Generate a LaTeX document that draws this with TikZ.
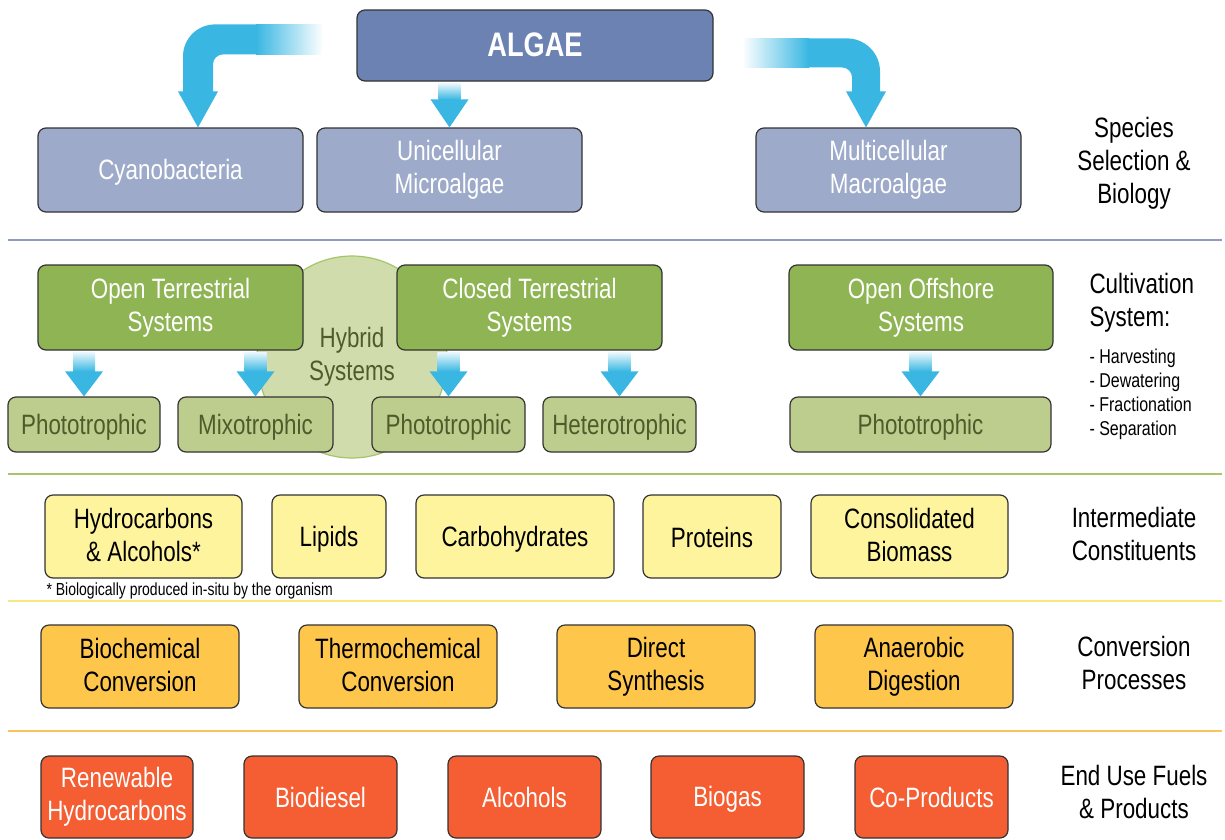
\documentclass[tikz,border=0pt]{standalone}
\usepackage{fontspec}
\setmainfont{Liberation Sans}[FakeStretch=0.8]
\usetikzlibrary{shapes.geometric,positioning,calc}

\definecolor{algaeblue}{HTML}{6B82B2}
\definecolor{specblue}{HTML}{9EAACA}
\definecolor{cultgreen}{HTML}{8EB453}
\definecolor{trophgreen}{HTML}{BDCD8D}
\definecolor{trophtext}{HTML}{4E5B2B}
\definecolor{hybridfill}{HTML}{D1DCAC}
\definecolor{hybriddraw}{HTML}{A3C56A}
\definecolor{constyellow}{HTML}{FEF49D}
\definecolor{convamber}{HTML}{FEC74B}
\definecolor{endred}{HTML}{F55D32}
\definecolor{arrowblue}{HTML}{39B7E2}
\definecolor{lineblue}{HTML}{8F9CC2}
\definecolor{linegreen}{HTML}{A9C46B}
\definecolor{lineyellow}{HTML}{F8E77E}
\definecolor{lineorange}{HTML}{F8C45B}

\newcommand{\topstrut}{\rule{0pt}{25pt}}
\newcommand{\botstrut}{\rule[-4pt]{0pt}{4pt}}

% straight fat arrow: source, target, head length
\newcommand{\fatdown}[3]{%
  \shade[top color=arrowblue!12, bottom color=arrowblue]
    ($(#1.south -| #2.north)+(-11,2)$) rectangle ($(#2.north)+(11,-#3)$);
  \fill[arrowblue] ($(#2.north)+(-19,-#3)$) -- ($(#2.north)+(19,-#3)$) -- (#2.north) -- cycle;
}

\begin{document}
\begin{tikzpicture}[x=1pt,y=-1pt]
		\tikzstyle{box}=[rectangle, rounded corners=8pt, draw=black!80, line width=1.2pt, align=center, inner sep=0pt, font=\fontsize{28}{33}\selectfont, execute at begin node=\topstrut, execute at end node=\botstrut]
		\tikzstyle{species}=[box, fill=specblue, text=white, minimum width=265pt, minimum height=84pt]
		\tikzstyle{cult}=[box, fill=cultgreen, text=white, minimum width=265pt, minimum height=85pt]
		\tikzstyle{troph}=[box, fill=trophgreen, text=trophtext, minimum height=55pt]
		\tikzstyle{constit}=[box, fill=constyellow, minimum height=83pt]
		\tikzstyle{conv}=[box, fill=convamber, minimum width=198pt, minimum height=83pt]
		\tikzstyle{enduse}=[box, fill=endred, text=white, minimum width=153pt, minimum height=82pt]
		\tikzstyle{side}=[align=center, font=\fontsize{28}{33}\selectfont, execute at begin node=\topstrut, execute at end node=\botstrut]
		\tikzstyle{sep}=[line width=2pt]
		\useasboundingbox (0,0) rectangle (1225,839);

		% species
		\node[box, fill=algaeblue, text=white, minimum width=356pt, minimum height=71pt, font=\fontsize{34}{40}\selectfont\bfseries] (algae) at (535,45.5) {ALGAE};
		\node[species] (cyano)   at (170.5,170) {Cyanobacteria};
		\node[species] (unicell) at (449.5,170) {Unicellular\\Microalgae};
		\node[species] (multi)   at (888.5,170) {Multicellular\\Macroalgae};
		\node[side] (lspecies) at (1134,163) {Species\\Selection \&\\Biology};

		% curved arrows out of algae
		\begin{scope}[shift={($(cyano.north)+(27.5,0)$)}]
		\shade[left color=arrowblue, right color=white] (58,-103) rectangle (125,-73);
		\fill[arrowblue] (59,-103) -- (17,-103) .. controls (-0.7,-103) and (-15,-88.7) .. (-15,-71) -- (-15,-36) -- (-20,-36) -- (0,0) -- (20,-36) -- (15,-36) -- (15,-63) .. controls (15,-68.5) and (19.5,-73) .. (25,-73) -- (59,-73) -- cycle;
		\end{scope}
		\begin{scope}[shift={($(multi.north)+(-22.5,0)$)}]
		\shade[left color=white, right color=arrowblue] (-124,-89) rectangle (-57,-60);
		\fill[arrowblue] (-58,-89) -- (-19,-89) .. controls (-0.8,-89) and (14,-74.2) .. (14,-56) -- (14,-36) -- (20,-36) -- (0,0) -- (-20,-36) -- (-14,-36) -- (-14,-50) .. controls (-14,-55.5) and (-18.5,-60) .. (-24,-60) -- (-58,-60) -- cycle;
		\end{scope}
		\fatdown{algae}{unicell}{28}

		\draw[sep, lineblue] (8,240) -- (1222,240);

		% cultivation
		\node[ellipse, fill=hybridfill, draw=hybriddraw, line width=1.2pt, minimum width=190pt, minimum height=202pt, align=center, text=trophtext, font=\fontsize{28}{33}\selectfont] (hybrid) at (352,357) {Hybrid\\Systems};
		\node[cult] (openterr)   at (170.5,307.5) {Open Terrestrial\\Systems};
		\node[cult] (closedterr) at (529.5,307.5) {Closed Terrestrial\\Systems};
		\node[cult, minimum width=264pt] (offshore) at (921,307.5) {Open Offshore\\Systems};

		\node[troph, minimum width=152pt] (photoA) at (84,424.5)    {Phototrophic};
		\node[troph, minimum width=155pt] (mixo)   at (255.5,424.5) {Mixotrophic};
		\node[troph, minimum width=153pt] (photoB) at (448.5,424.5) {Phototrophic};
		\node[troph, minimum width=153pt] (hetero) at (619.5,424.5) {Heterotrophic};
		\node[troph, minimum width=261pt] (photoC) at (920.5,424.5) {Phototrophic};

		\fatdown{openterr}{photoA}{25}
		\fatdown{openterr}{mixo}{25}
		\fatdown{closedterr}{photoB}{25}
		\fatdown{closedterr}{hetero}{25}
		\fatdown{offshore}{photoC}{25}

		\node[side, anchor=west, align=left] (lcult) at (1086,303) {Cultivation\\System:};
		\node[anchor=west, align=left, font=\fontsize{20}{24}\selectfont] (lsteps) at (1086,394) {- Harvesting\\- Dewatering\\- Fractionation\\- Separation};

		\draw[sep, linegreen] (8,474) -- (1222,474);

		% intermediate constituents
		\node[constit, minimum width=197pt] (hydro)   at (143.5,536.5) {Hydrocarbons\\\& Alcohols*};
		\node[constit, minimum width=114pt] (lipids)  at (329,536.5)   {Lipids};
		\node[constit, minimum width=198pt] (carbo)   at (515,536.5)   {Carbohydrates};
		\node[constit, minimum width=138pt] (protein) at (712,536.5)   {Proteins};
		\node[constit, minimum width=197pt] (consol)  at (909.5,536.5) {Consolidated\\Biomass};
		\node[anchor=west, font=\fontsize{17.5}{20}\selectfont] (note) at (43,591) {* Biologically produced in-situ by the organism};
		\node[side] (lconst) at (1134,536) {Intermediate\\Constituents};

		\draw[sep, lineyellow] (8,601) -- (1222,601);

		% conversion
		\node[conv] (biochem)   at (140,666.5) {Biochemical\\Conversion};
		\node[conv] (thermo)    at (398,666.5) {Thermochemical\\Conversion};
		\node[conv] (direct)    at (656,666.5) {Direct\\Synthesis};
		\node[conv] (anaerobic) at (914,666.5) {Anaerobic\\Digestion};
		\node[side] (lconv) at (1134,664.5) {Conversion\\Processes};

		\draw[sep, lineorange] (8,731) -- (1222,731);

		% end use
		\node[enduse, minimum width=152pt] (renew) at (117,797) {Renewable\\Hydrocarbons};
		\node[enduse] (biodiesel) at (320.5,797) {Biodiesel};
		\node[enduse] (alcohols)  at (524.5,797) {Alcohols};
		\node[enduse] (biogas)    at (727.5,797) {Biogas};
		\node[enduse] (coprod)    at (931.5,797) {Co-Products};
		\node[side] (lend) at (1134,793.5) {End Use Fuels\\\& Products};
\end{tikzpicture}
\end{document}
